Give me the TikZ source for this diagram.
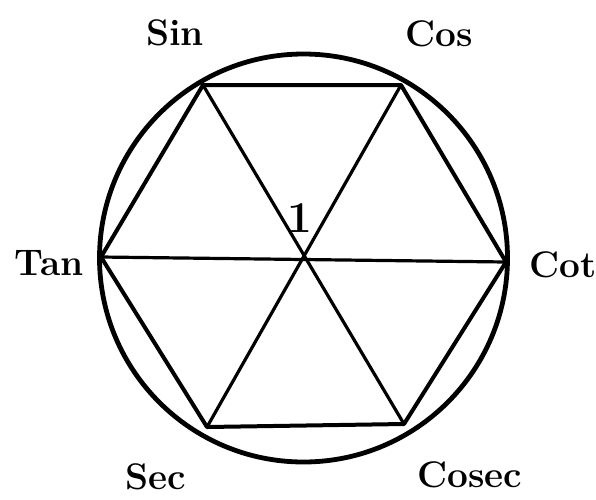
\documentclass[tikz,border=0pt]{standalone}
\usepackage{fontspec}
\usepackage{tikz}
\usetikzlibrary{positioning,calc}
\tikzset{
  rim/.style={line width=4.8pt},
  side/.style={line width=4pt,line join=round},
  spoke/.style={line width=3.2pt},
  fn/.style={font=\fontsize{37}{42}\selectfont\bfseries,inner sep=0pt,anchor=base},
  one/.style={font=\fontsize{44}{48}\selectfont\bfseries,inner sep=0pt,anchor=base}
}
\begin{document}
\begin{tikzpicture}[x=1pt,y=-1pt]
  \useasboundingbox (0,0) rectangle (596,499);
  % hexagon corners
  \coordinate (o) at (303,259);
  \coordinate (sinV) at (203,85);
  \coordinate (cosV) at (401,85);
  \coordinate (tanV) at (101,257);
  \coordinate (cotV) at (506,262);
  \coordinate (secV) at (207,427);
  \coordinate (cosecV) at (404,424);
  \draw[rim] (303.5,258) circle[radius=204];
  \draw[side] (sinV)--(cosV)--(cotV)--(cosecV)--(secV)--(tanV)--cycle;
  \draw[spoke] (sinV)--(cosecV);
  \draw[spoke] (cosV)--(secV);
  \draw[spoke] (tanV)--(cotV);
  % labels
  \node[fn] (sin) at (175,45) {Sin};
  \node[fn] (cos) at (439,46) {Cos};
  \node[fn] (tan) at (49,275) {Tan};
  \node[fn] (cot) at (563,277) {Cot};
  \node[fn] (sec) at (156,489) {Sec};
  \node[fn] (cosec) at (470,487) {Cosec};
  \node[one] (unit) at (300,232) {1};
\end{tikzpicture}
\end{document}
